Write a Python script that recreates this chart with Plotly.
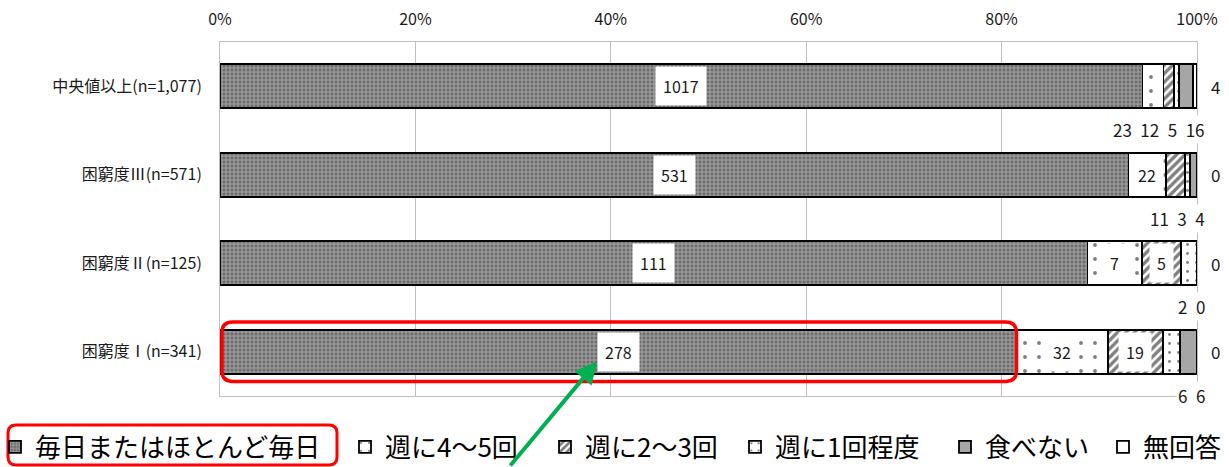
import plotly.graph_objects as go

categories = ["中央値以上(n=1,077)", "困窮度Ⅲ(n=571)", "困窮度Ⅱ(n=125)", "困窮度Ⅰ(n=341)"]
totals = [1077, 571, 125, 341]
series_names = ["毎日またはほとんど毎日", "週に4～5回", "週に2～3回", "週に1回程度", "食べない", "無回答"]
every_day = [1017, 531, 111, 278]
week_4_5 = [23, 22, 7, 32]
week_2_3 = [12, 11, 5, 19]
week_1 = [5, 3, 2, 6]
never = [16, 4, 0, 6]
no_answer = [4, 0, 0, 0]
tick_vals = [0, 0.2, 0.4, 0.6, 0.8, 1.0]
tick_text = ["0%", "20%", "40%", "60%", "80%", "100%"]

series_values = [every_day, week_4_5, week_2_3, week_1, never, no_answer]

FONT = "Noto Sans CJK JP"
W, H = 1229, 467
ML, MR, MT, MB = 220, 32, 42, 71
PW, PH = W - ML - MR, H - MT - MB

styles = [
    dict(color="#8a8a8a", pattern=dict(shape="+", size=4, solidity=0.45, fgcolor="#dcdcdc", bgcolor="#6c6c6c")),
    dict(color="white", pattern=dict(shape=".", size=14, solidity=0.06, fgcolor="black", bgcolor="white")),
    dict(color="white", pattern=dict(shape="/", size=6, solidity=0.55, fgcolor="black", bgcolor="white")),
    dict(color="white", pattern=dict(shape=".", size=9, solidity=0.08, fgcolor="black", bgcolor="white")),
    dict(color="#a6a6a6"),
    dict(color="white"),
]
# left edge (px) of each legend entry's text in the picture
legend_text_px = [35, 385, 585, 775, 985, 1143]

fig = go.Figure()
legends = {}
for k, (name, vals, st) in enumerate(zip(series_names, series_values, styles)):
    shares = [v / t for v, t in zip(vals, totals)]
    marker = dict(line=dict(color="black", width=1.8), **st)
    lname = "legend" if k == 0 else f"legend{k + 1}"
    fig.add_trace(go.Bar(y=categories, x=shares, name=name, orientation="h",
                         marker=marker, hoverinfo="skip", width=0.5, legend=lname))
    legends[lname] = dict(orientation="h", x=(legend_text_px[k] - 40 - ML) / PW, xanchor="left",
                          y=(PH - (447 - MT)) / PH, yanchor="middle",
                          font=dict(family=FONT, size=26, color="black"),
                          bgcolor="rgba(0,0,0,0)", itemwidth=30)

annotations = []
for i, cat in enumerate(categories):
    cum = 0.0
    below = []
    for j, vals in enumerate(series_values):
        share = vals[i] / totals[i]
        if share >= 0.03:
            annotations.append(dict(x=cum + share / 2, y=i, xref="x", yref="y", text=str(vals[i]),
                                    showarrow=False, bgcolor="white", borderpad=7,
                                    font=dict(family=FONT, size=16, color="#1a1a1a")))
        elif j == len(series_values) - 1:
            annotations.append(dict(x=1, y=i, xref="x", yref="y", text=str(vals[i]), xanchor="left",
                                    xshift=12, showarrow=False,
                                    font=dict(family=FONT, size=17, color="#1a1a1a")))
        else:
            below.append(str(vals[i]))
        cum += share
    if below:
        annotations.append(dict(x=1, y=i + 0.49, xref="x", yref="y", text="\u2002".join(below),
                                xanchor="right", xshift=10, showarrow=False, bgcolor="white",
                                font=dict(family=FONT, size=17, color="#1a1a1a")))

# green arrow pointing at the 困窮度Ⅰ label
hl = len(categories) - 1
hl_share = every_day[hl] / totals[hl]
annotations.append(dict(x=hl_share * 0.4735, y=hl + 0.11, xref="x", yref="y", text="",
                        showarrow=True, arrowhead=2, arrowsize=1.1, arrowwidth=4,
                        arrowcolor="#00b050", ax=-88, ay=118, standoff=0))

# red rounded highlight around the 困窮度Ⅰ 毎日 segment
rx, ry = 0.011, 0.12
x0, x1 = 0.002, hl_share
y0, y1 = hl - 0.335, hl + 0.335
path = (f"M {x0+rx},{y0} L {x1-rx},{y0} Q {x1},{y0} {x1},{y0+ry} L {x1},{y1-ry} "
        f"Q {x1},{y1} {x1-rx},{y1} L {x0+rx},{y1} Q {x0},{y1} {x0},{y1-ry} L {x0},{y0+ry} "
        f"Q {x0},{y0} {x0+rx},{y0} Z")
shapes = [dict(type="path", path=path, xref="x", yref="y", line=dict(color="#ff0000", width=3.5))]

# red rounded highlight around the first legend entry (pixel path anchored at plot's bottom-left)
bx0, bx1 = 8 - ML, 337 - ML
by0, by1 = -(425 - MT - PH), -(465 - MT - PH)
r = 8
shapes.append(dict(type="path", xref="paper", yref="paper", xsizemode="pixel", ysizemode="pixel",
                   xanchor=0, yanchor=0,
                   path=(f"M {bx0+r},{by0} L {bx1-r},{by0} Q {bx1},{by0} {bx1},{by0-r} "
                         f"L {bx1},{by1+r} Q {bx1},{by1} {bx1-r},{by1} L {bx0+r},{by1} "
                         f"Q {bx0},{by1} {bx0},{by1+r} L {bx0},{by0-r} Q {bx0},{by0} {bx0+r},{by0} Z"),
                   line=dict(color="#ff0000", width=3)))

fig.update_layout(
    width=W, height=H,
    margin=dict(l=ML, r=MR, t=MT, b=MB, autoexpand=False),
    barmode="stack", bargap=0.5,
    plot_bgcolor="white", paper_bgcolor="white",
    font=dict(family=FONT, color="#1a1a1a"),
    showlegend=True,
    annotations=annotations,
    shapes=shapes,
    **legends,
)
fig.update_xaxes(range=[0, 1], side="top", tickvals=tick_vals, ticktext=tick_text,
                 showgrid=True, gridcolor="#bfbfbf", gridwidth=1,
                 showline=True, linecolor="#bfbfbf", mirror=True, zeroline=False,
                 tickfont=dict(family=FONT, size=16, color="#1a1a1a"), ticks="",
                 ticklabelstandoff=10, automargin=False)
fig.update_yaxes(categoryorder="array", categoryarray=categories,
                 range=[len(categories) - 0.5, -0.5], autorange=False,
                 showline=True, linecolor="#bfbfbf", mirror=True,
                 tickfont=dict(family=FONT, size=16, color="#1a1a1a"), ticks="",
                 ticklabelstandoff=14, automargin=False)

fig.write_html("out.html", config={"displayModeBar": False},
               post_script="document.body.style.margin='0px';document.body.style.overflow='hidden';")
